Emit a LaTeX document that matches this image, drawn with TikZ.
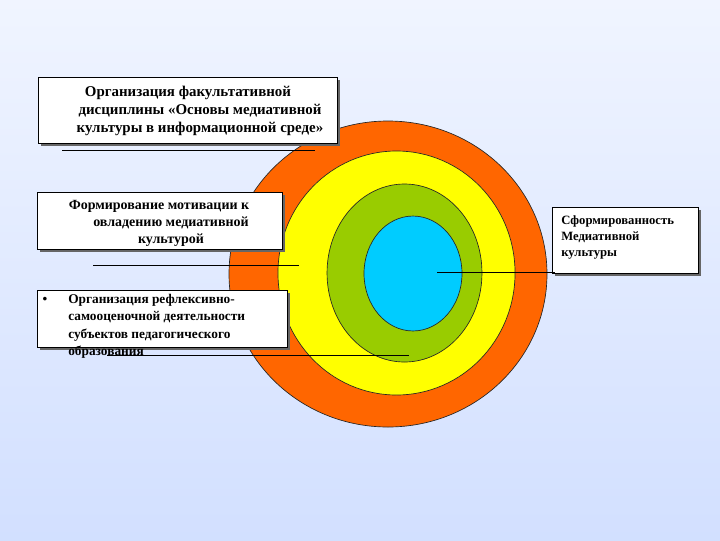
\documentclass[tikz,border=0pt]{standalone}
\usepackage{fontspec}
\setmainfont{Liberation Serif}
\usetikzlibrary{shadows}
\definecolor{bgbot}{RGB}{195,213,255}
\definecolor{corange}{RGB}{255,102,0}
\definecolor{cyellow}{RGB}{255,255,0}
\definecolor{cgreen}{RGB}{153,204,0}
\definecolor{cblue}{RGB}{0,204,255}
\pgfdeclareverticalshading{bgsh}{100bp}{color(0bp)=(bgbot); color(100bp)=(white)}
\begin{document}
\begin{tikzpicture}[x=0.75pt,y=-0.75pt,
  ring/.style={draw=black!85, line width=0.5pt},
  box/.style={draw=black, fill=white, line width=0.75pt, inner sep=0pt, anchor=north west,
    drop shadow={shadow xshift=1.5pt, shadow yshift=-1.5pt, fill=black!60, opacity=1}},
  lbl/.style={inner sep=0pt},
  leader/.style={draw=black, line width=0.75pt}]
\fill[shading=bgsh] (0,0) rectangle (720,540);
\useasboundingbox (0,0) rectangle (720,540);
% rings
\fill[corange] (388,274) ellipse [x radius=119.25pt, y radius=114.75pt];
\draw[ring] (388,274) ellipse [x radius=119.25pt, y radius=114.75pt];
\fill[cyellow] (396.5,273) ellipse [x radius=88.9pt, y radius=91.5pt];
\draw[ring] (396.5,273) ellipse [x radius=88.9pt, y radius=91.5pt];
\fill[cgreen] (404.5,273) ellipse [x radius=58.1pt, y radius=66.75pt];
\draw[ring] (404.5,273) ellipse [x radius=58.1pt, y radius=66.75pt];
\fill[cblue] (413,273.5) ellipse [x radius=36.75pt, y radius=43.1pt];
\draw[ring] (413,273.5) ellipse [x radius=36.75pt, y radius=43.1pt];
% boxes
\node[box, minimum width=224.25pt, minimum height=49.5pt] (b1) at (38,77) {};
\node[box, minimum width=183.75pt, minimum height=42.75pt] (b2) at (37,192) {};
\node[box, minimum width=187.5pt, minimum height=42.75pt] (b3) at (37,290) {};
\node[box, minimum width=109.5pt, minimum height=49.5pt] (b4) at (552,207) {};
% texts
\node[lbl, align=center, font=\bfseries\fontsize{11.2}{13.6}\selectfont] (t1) at (200,111)
  {Организация факультативной\hspace*{18pt}\\дисциплины «Основы медиативной\\культуры в информационной среде»};
\node[lbl, align=center, font=\bfseries\fontsize{10.5}{12.5}\selectfont] (t2) at (171,223.5)
  {Формирование мотивации к\hspace*{18pt}\\овладению медиативной\\культурой};
\node[lbl, anchor=north west, align=left, font=\bfseries\fontsize{10}{13}\selectfont] (t3) at (68,294)
  {Организация рефлексивно-\\самооценочной деятельности\\субъектов педагогического\\образования};
\node[lbl, font=\bfseries\fontsize{10}{13}\selectfont] (bul) at (45,300) {•};
\node[lbl, anchor=north west, align=left, font=\bfseries\fontsize{9.5}{12}\selectfont] (t4) at (561,215.5)
  {Сформированность\\Медиативной\\культуры};
% leaders
\coordinate (l1a) at (62,150);  \coordinate (l1b) at (315,150);
\coordinate (l2a) at (93,265);  \coordinate (l2b) at (299,265);
\coordinate (l3a) at (107,355); \coordinate (l3b) at (409,355);
\coordinate (l4a) at (437,272.5); \coordinate (l4b) at (555,272.5);
\draw[leader] (l1a) -- (l1b);
\draw[leader] (l2a) -- (l2b);
\draw[leader] (l3a) -- (l3b);
\draw[leader] (l4a) -- (l4b);
\end{tikzpicture}
\end{document}
